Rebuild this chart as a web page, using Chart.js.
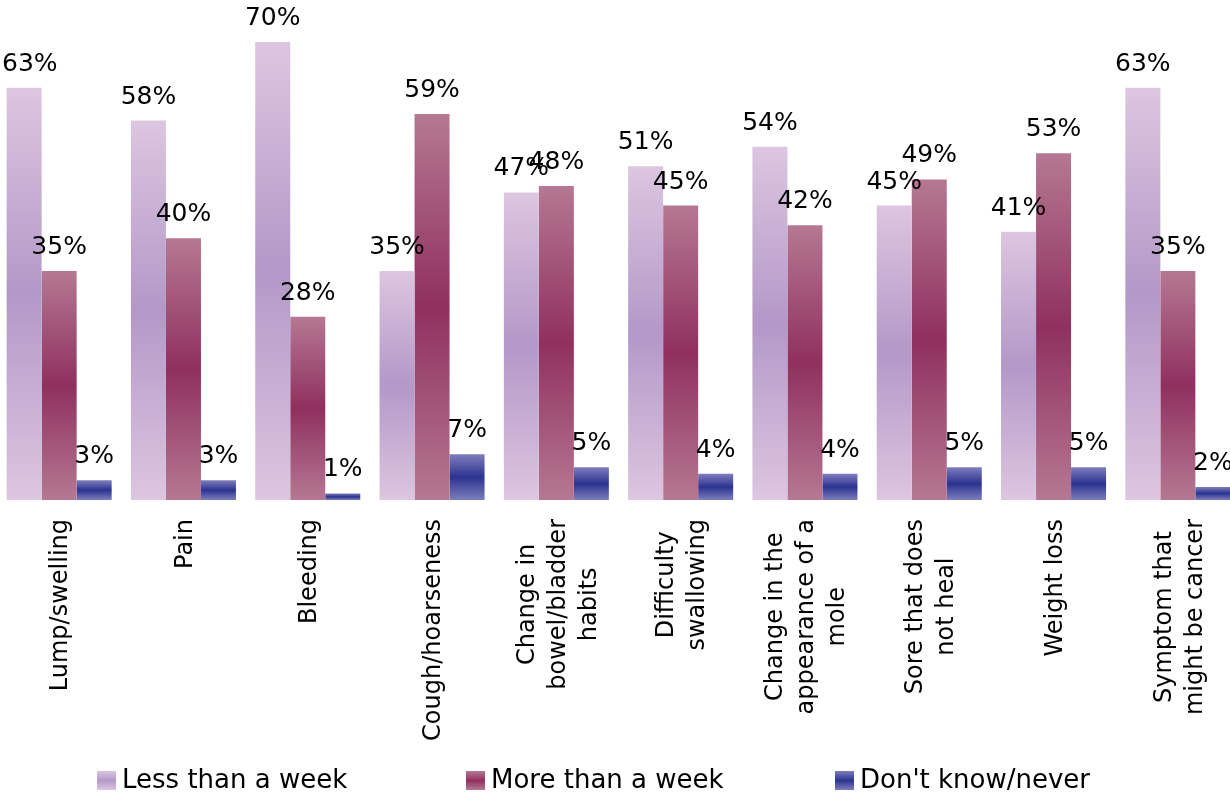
<!DOCTYPE html>
<html>
<head>
<meta charset="utf-8">
<title>Symptoms</title>
<script src="https://cdn.jsdelivr.net/npm/chart.js@4.4.1/dist/chart.umd.min.js"></script>
<style>
  html, body { margin: 0; padding: 0; background: #fff; overflow: hidden; }
  #wrap { position: relative; width: 1230px; height: 794px; overflow: hidden; }
  #myChart { position: absolute; left: -3px; top: 0; }
</style>
</head>
<body>
<div id="wrap"><canvas id="myChart" width="1243" height="794"></canvas></div>
<script>
var categories = [
  ['Lump/swelling'],
  ['Pain'],
  ['Bleeding'],
  ['Cough/hoarseness'],
  ['Change in', 'bowel/bladder', 'habits'],
  ['Difficulty', 'swallowing'],
  ['Change in the', 'appearance of a', 'mole'],
  ['Sore that does', 'not heal'],
  ['Weight loss'],
  ['Symptom that', 'might be cancer']
];
var seriesNames = ['Less than a week', 'More than a week', "Don't know/never"];
var lessThanWeek = [63, 58, 70, 35, 47, 51, 54, 45, 41, 63];
var moreThanWeek = [35, 40, 28, 59, 48, 45, 42, 49, 53, 35];
var dontKnow = [3, 3, 1, 7, 5, 4, 4, 5, 5, 2];

// edge / middle colour of each series' vertical gradient
var shades = [
  ['#dcc6e0', '#b398c8'],
  ['#b57893', '#90305e'],
  ['#7e7ebd', '#2b3390']
];

var FONT = '"DejaVu Sans", Verdana, sans-serif';

function barGradient(edge, mid) {
  return function (ctx) {
    if (ctx.type !== 'data') return mid;
    var chart = ctx.chart, y = chart.scales.y;
    if (!y) return mid;
    var top = y.getPixelForValue(ctx.raw), base = y.getPixelForValue(0);
    if (!isFinite(top) || !isFinite(base) || base - top < 1) return mid;
    var g = chart.ctx.createLinearGradient(0, top, 0, base);
    g.addColorStop(0, edge);
    g.addColorStop(0.5, mid);
    g.addColorStop(1, edge);
    return g;
  };
}

// percentages above the bars, kept inside the visible area
var valueLabels = {
  id: 'valueLabels',
  afterDatasetsDraw: function (chart) {
    var c = chart.ctx;
    c.save();
    c.font = '25px ' + FONT;
    c.fillStyle = '#000';
    c.textAlign = 'left';
    c.textBaseline = 'alphabetic';
    chart.data.datasets.forEach(function (ds, i) {
      chart.getDatasetMeta(i).data.forEach(function (bar, j) {
        var txt = ds.data[j] + '%';
        var w = c.measureText(txt).width;
        var left = Math.max(bar.x - w / 2, 5);
        c.fillText(txt, left, bar.y - 17);
      });
    });
    c.restore();
  }
};

// rotated category names, lines centred on each other
var axisLabels = {
  id: 'axisLabels',
  afterDraw: function (chart) {
    var c = chart.ctx, x = chart.scales.x, lh = 31;
    c.save();
    c.font = '24px ' + FONT;
    c.fillStyle = '#000';
    c.textAlign = 'center';
    c.textBaseline = 'middle';
    categories.forEach(function (lines, i) {
      var px = x.getPixelForValue(i) + 2;
      var w = 0;
      lines.forEach(function (l) { w = Math.max(w, c.measureText(l).width); });
      c.save();
      c.translate(px, chart.chartArea.bottom + 19);
      c.rotate(-Math.PI / 2);
      lines.forEach(function (l, k) {
        c.fillText(l, -w / 2, (k - (lines.length - 1) / 2) * lh);
      });
      c.restore();
    });
    c.restore();
  }
};

// legend row along the bottom
var bottomLegend = {
  id: 'bottomLegend',
  afterDraw: function (chart) {
    var c = chart.ctx;
    c.save();
    c.font = '26px ' + FONT;
    c.textBaseline = 'alphabetic';
    chart.data.datasets.forEach(function (ds, i) {
      var bx = 100 + i * 369, by = 771, s = 19;
      var g = c.createLinearGradient(0, by, 0, by + s);
      g.addColorStop(0, shades[i][0]);
      g.addColorStop(0.5, shades[i][1]);
      g.addColorStop(1, shades[i][0]);
      c.fillStyle = g;
      c.fillRect(bx, by, s, s);
      c.fillStyle = '#000';
      c.fillText(ds.label, bx + 25, 788);
    });
    c.restore();
  }
};

var ctx = document.getElementById('myChart');

var myChart = new Chart(ctx, {
  type: 'bar',
  data: {
    labels: categories,
    datasets: [
      { label: seriesNames[0], data: lessThanWeek, backgroundColor: barGradient(shades[0][0], shades[0][1]) },
      { label: seriesNames[1], data: moreThanWeek, backgroundColor: barGradient(shades[1][0], shades[1][1]) },
      { label: seriesNames[2], data: dontKnow, backgroundColor: barGradient(shades[2][0], shades[2][1]) }
    ]
  },
  options: {
    responsive: false,
    devicePixelRatio: 1,
    animation: false,
    categoryPercentage: 0.845,
    barPercentage: 1.0,
    borderWidth: 0,
    layout: { padding: { top: 42, bottom: 294, left: 0, right: 0 } },
    scales: {
      x: { display: false },
      y: { display: false, min: 0, max: 70 }
    },
    plugins: {
      legend: { display: false },
      tooltip: { enabled: false }
    }
  },
  plugins: [valueLabels, axisLabels, bottomLegend]
});
</script>
</body>
</html>
